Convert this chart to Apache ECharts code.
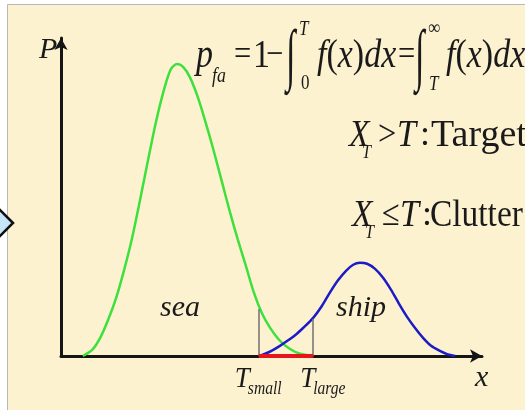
<!DOCTYPE html>
<html>
<head>
<meta charset="utf-8">
<script src="https://cdn.jsdelivr.net/npm/echarts@6/dist/echarts.min.js"></script>
<style>
  html, body { margin: 0; padding: 0; background: #ffffff; }
  #chart { width: 525px; height: 410px; }
</style>
</head>
<body>
<div id="chart"></div>
<script>
// Sea clutter density f(x)
const seaX = [0.52, 0.74, 0.93, 1.12, 1.31, 1.50, 1.69, 1.88, 2.07, 2.26, 2.45, 2.61, 2.76, 2.90,
              3.06, 3.25, 3.44, 3.63, 3.82, 4.01, 4.20, 4.39, 4.58, 4.77, 4.96, 5.20, 5.44, 5.68, 5.99];
const seaY = [0.000, 0.019, 0.057, 0.114, 0.183, 0.271, 0.372, 0.492, 0.618, 0.738, 0.839, 0.902, 0.918, 0.909,
              0.877, 0.814, 0.732, 0.644, 0.549, 0.454, 0.366, 0.284, 0.200, 0.135, 0.090, 0.048, 0.022, 0.007, 0.000];

// Ship return density
const shipX = [4.70, 4.85, 5.01, 5.20, 5.37, 5.56, 5.75, 5.99, 6.20, 6.39, 6.58, 6.77, 6.94,
               7.10, 7.27, 7.46, 7.65, 7.84, 8.03, 8.22, 8.41, 8.60, 8.79, 9.00, 9.17, 9.36];
const shipY = [0.000, 0.007, 0.017, 0.032, 0.047, 0.065, 0.088, 0.120, 0.158, 0.200, 0.238, 0.268, 0.287,
               0.293, 0.290, 0.274, 0.246, 0.208, 0.164, 0.123, 0.088, 0.057, 0.032, 0.016, 0.006, 0.000];

// Detection thresholds
const thresholdX = [4.70, 5.99];
const thresholdTop = [0.148, 0.117];
const thresholdSub = ['small', 'large'];

const serif = "'Liberation Serif', 'Times New Roman', serif";
const ink = '#1a1a1a';
const pairs = (xs, ys) => xs.map((x, i) => [x, ys[i]]);

const chart = echarts.init(document.getElementById('chart'), null, { renderer: 'canvas' });

const axisCommon = {
  type: 'value',
  min: 0,
  axisLine: {
    show: true,
    symbol: ['none', 'arrow'],
    symbolSize: [10, 12],
    lineStyle: { color: '#151515', width: 3 }
  },
  axisTick: { show: false },
  axisLabel: { show: false },
  splitLine: { show: false }
};

chart.setOption({
  animation: false,
  backgroundColor: '#ffffff',
  grid: { left: 61, right: 43, top: 38, bottom: 54 },
  xAxis: Object.assign({}, axisCommon, { max: 10 }),
  yAxis: Object.assign({}, axisCommon, { max: 1 }),
  series: [
    {
      type: 'line', name: 'sea', data: pairs(seaX, seaY), smooth: 0.3, showSymbol: false,
      lineStyle: { color: '#3ee03e', width: 2.5 }, z: 3
    },
    {
      type: 'line', name: 'ship', data: pairs(shipX, shipY), smooth: 0.3, showSymbol: false,
      lineStyle: { color: '#1c1cc6', width: 2.5 }, z: 3
    },
    {
      type: 'line', name: 'threshold band',
      data: thresholdX.map(x => [x, 0]), showSymbol: false,
      lineStyle: { color: '#e8141c', width: 4 }, z: 5,
      markLine: {
        symbol: 'none', silent: true,
        label: { show: false },
        lineStyle: { color: '#707070', width: 1.5, type: 'solid' },
        data: thresholdX.map((x, i) => [{ coord: [x, 0] }, { coord: [x, thresholdTop[i]] }])
      }
    }
  ]
});

// text helper: sx condenses the glyphs horizontally like the slide's Times face
function txt(str, x, y, size, italic, sx, extra) {
  return Object.assign({
    type: 'text', x: x, y: y, z: 20, scaleX: sx || 1,
    style: {
      text: str, fill: ink, fontSize: size, fontFamily: serif,
      fontStyle: italic ? 'italic' : 'normal',
      align: 'left', verticalAlign: 'middle'
    }
  }, extra || {});
}

function fx(x, y) {
  return {
    type: 'text', x: x, y: y, z: 20, scaleX: 0.85,
    style: {
      text: '{i|f}{u|(}{i|x}{u|)}{i|dx}',
      align: 'left', verticalAlign: 'middle',
      rich: {
        i: { fontSize: 40, fontFamily: serif, fontStyle: 'italic', fill: ink },
        u: { fontSize: 40, fontFamily: serif, fill: ink }
      }
    }
  };
}

const graphics = [
  // panel background and border
  { type: 'rect', z: -10, shape: { x: 7.5, y: 4.5, width: 530, height: 420 },
    style: { fill: '#fdf2d0', stroke: '#b8b8b8', lineWidth: 1 } },
  // navigation marker at left edge
  { type: 'polygon', z: -5, shape: { points: [[13, 223], [-16, 194], [-45, 223], [-16, 252]] },
    style: { fill: '#c6e6f7', stroke: '#111111', lineWidth: 2.5 } },

  // axis names
  txt('P', 39, 50, 30, true),
  txt('x', 475, 378, 30, true),

  // false-alarm probability
  txt('p', 196, 56, 40, true, 0.85),
  txt('fa', 212, 76, 21, true, 0.85),
  txt('=', 234, 56, 36, false, 0.85),
  txt('1', 253, 56, 40, false, 0.85),
  txt('\u2212', 266, 56, 36, false, 0.85),
  txt('\u222B', 286, 59, 40, false, 0.85, { scaleY: 1.7 }),
  txt('T', 299, 30, 20, true, 0.85),
  txt('0', 301, 84, 20, false, 0.85),
  fx(317, 56),
  txt('=', 398, 56, 36, false, 0.85),
  txt('\u222B', 415, 59, 40, false, 0.85, { scaleY: 1.7 }),
  txt('\u221E', 428, 29, 20, false, 0.85),
  txt('T', 429, 85, 20, true, 0.85),
  fx(446, 56),

  // decision rule
  txt('X', 349, 136, 38, true, 0.88),
  txt('T', 362, 153, 18, true, 0.9),
  txt('>', 378, 136, 36, false, 0.9),
  txt('T', 397, 136, 38, true, 0.9),
  txt(':', 420, 136, 36, false),
  txt('Target', 431, 136, 38, false),

  txt('X', 352, 216, 38, true, 0.88),
  txt('T', 365, 233, 18, true, 0.9),
  txt('\u2264', 382, 216, 36, false, 0.9),
  txt('T', 400, 216, 38, true, 0.9),
  txt(':', 422, 216, 36, false),
  txt('Clutter', 430, 216, 38, false, 0.88),

  // distribution names
  txt('sea', 160, 308, 30, true),
  txt('ship', 336, 308, 30, true)
];

// threshold names placed under their marks on the x axis
const labelShift = [-24, -13];
thresholdX.forEach((x, i) => {
  const p = chart.convertToPixel({ gridIndex: 0 }, [x, 0]);
  const left = p[0] + labelShift[i];
  graphics.push(txt('T', left, 379, 30, true, 0.9));
  graphics.push(txt(thresholdSub[i], left + 13, 389, 19, true, 0.82));
});

chart.setOption({ graphic: graphics });
</script>
</body>
</html>
